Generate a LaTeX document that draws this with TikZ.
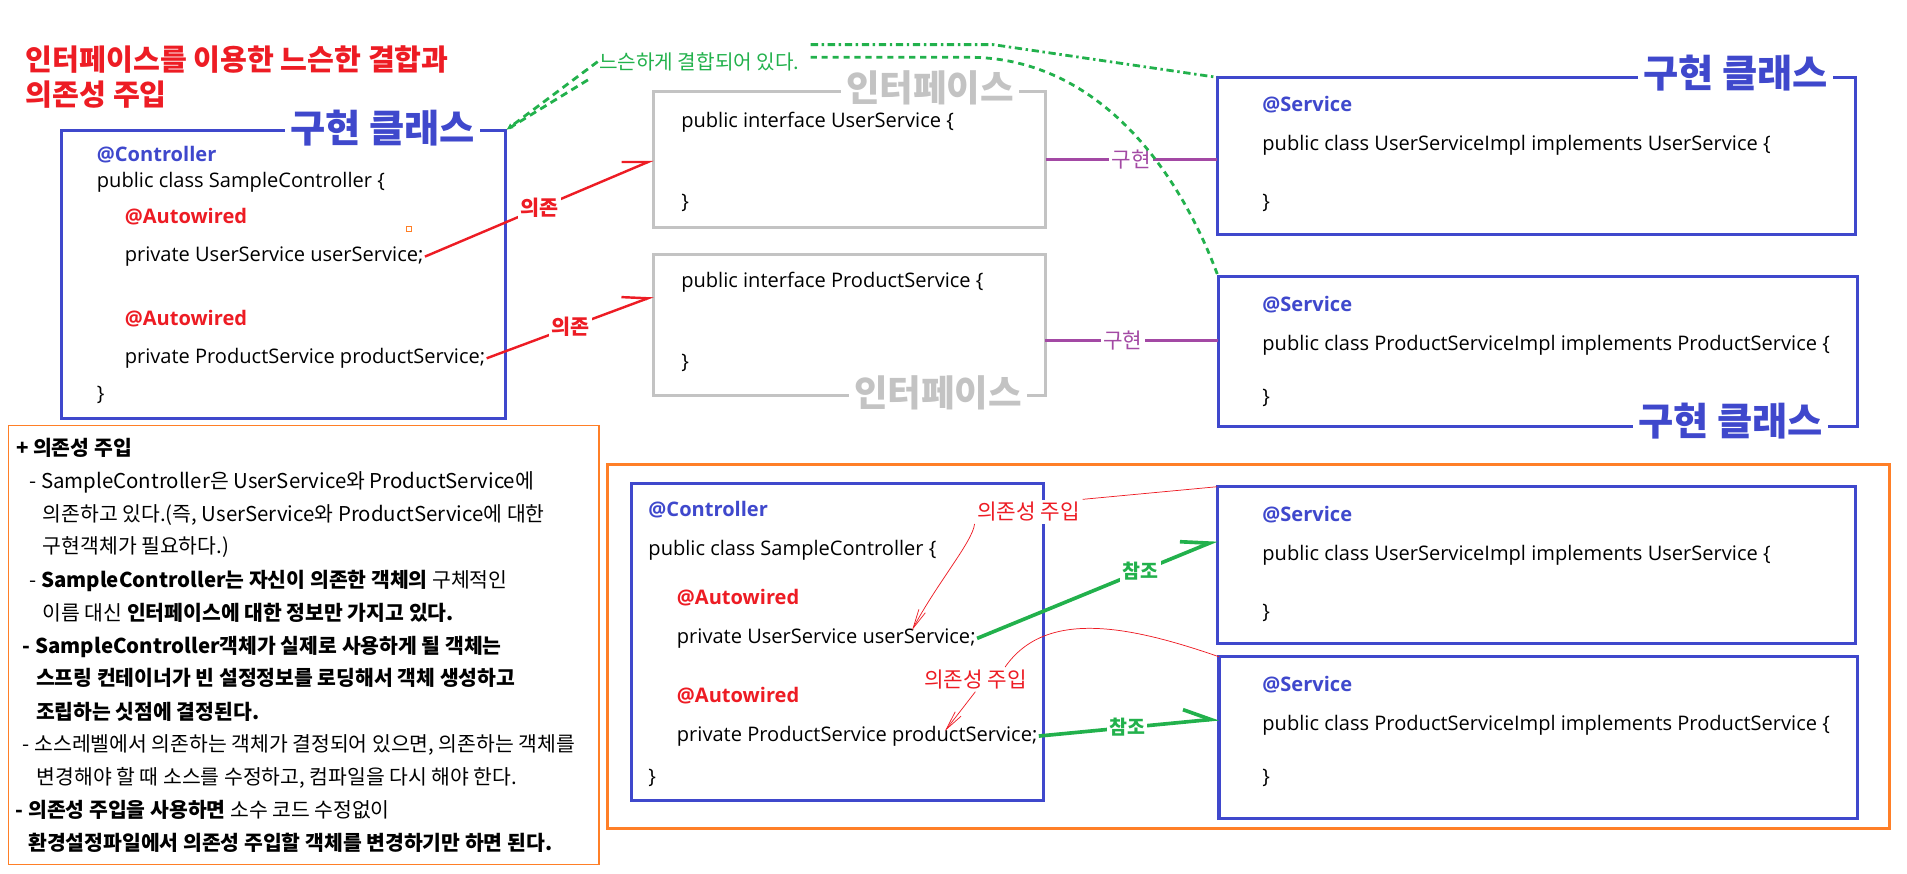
\documentclass[tikz,border=0pt]{standalone}
\usepackage{fontspec}
\setmainfont{Noto Sans CJK KR}
\newfontfamily\codefont{Open Sans}
\usetikzlibrary{arrows.meta}

\definecolor{paintblue}{HTML}{3F48CC}
\definecolor{paintred}{HTML}{ED1C24}
\definecolor{paintgreen}{HTML}{22B14C}
\definecolor{paintpurple}{HTML}{A349A4}
\definecolor{paintorange}{HTML}{FF7F27}
\definecolor{paintgray}{HTML}{C3C3C3}

\begin{document}
\begin{tikzpicture}[
    x=1pt, y=-1pt,
    every node/.style={inner sep=1pt},
    classbox/.style={draw=paintblue, line width=2.5pt, inner sep=0pt, outer sep=0pt, anchor=north west},
    ifacebox/.style={classbox, draw=paintgray},
    notebox/.style={classbox, draw=paintorange},
    boxtitle/.style={fill=white, inner sep=4pt, text=paintblue, font=\bfseries\fontsize{31.5}{34}\selectfont},
    ifacetitle/.style={boxtitle, text=paintgray, font=\bfseries\fontsize{30}{33}\selectfont},
    code/.style={anchor=west, font=\codefont\fontsize{16.5}{19}\selectfont},
    annot/.style={anchor=west, font=\codefont\bfseries\fontsize{16.5}{19}\selectfont},
    notetext/.style={anchor=west, inner sep=0pt, font=\fontsize{16.8}{19}\selectfont},
    tag/.style={fill=white, inner sep=2pt, font=\bfseries\fontsize{17}{20}\selectfont},
    plaintag/.style={fill=white, inner sep=2pt, font=\fontsize{17.5}{20}\selectfont},
    depend/.style={draw=paintred, line width=2pt, -{Straight Barb[harpoon,length=20pt,angle'=46]}},
    implement/.style={draw=paintpurple, line width=2.5pt},
    refer/.style={draw=paintgreen, line width=3pt, -{Straight Barb[harpoon,length=22pt,angle'=50]}},
    inject/.style={draw=paintred, line width=0.6pt},
    loosely/.style={draw=paintgreen, line width=2.3pt, dash pattern=on 6pt off 4pt}
]
\useasboundingbox (0,0) rectangle (1568,718);

% title
\node[anchor=west, text=paintred, font=\bfseries\fontsize{24}{27}\selectfont] (title1) at (20,48.8) {인터페이스를 이용한 느슨한 결합과};
\node[anchor=west, text=paintred, font=\bfseries\fontsize{24}{27}\selectfont] (title2) at (20,78) {의존성 주입};

% controller
\node[classbox, minimum width=365.5pt, minimum height=237pt] (ctrl) at (50.5,107) {};
\node[boxtitle] (ctrltitle) at (314.6,105.5) {구현 클래스};
\node[annot, text=paintblue] (ctrlanno) at (78.5,127.5) {@Controller};
\node[code] (ctrlhead) at (78.5,150.2) {public class SampleController \{};
\node[annot, text=paintred] (ctrlwire1) at (101.4,178) {@Autowired};
\node[code] (ctrlfield1) at (101.4,211) {private UserService userService;};
\node[annot, text=paintred] (ctrlwire2) at (101.4,261.7) {@Autowired};
\node[code] (ctrlfield2) at (101.4,294.6) {private ProductService productService;};
\node[code] (ctrlend) at (78.5,324.8) {\}};
\node[draw=paintorange, line width=0.8pt, minimum size=4pt, inner sep=0pt] (speck) at (336,188) {};

% interfaces
\node[ifacebox, minimum width=322.5pt, minimum height=111.8pt] (ifuser) at (537.3,75.4) {};
\node[ifacetitle] (ifusertitle) at (764.7,72.6) {인터페이스};
\node[code] (ifuserhead) at (559,100.9) {public interface UserService \{};
\node[code] (ifuserend) at (559,167) {\}};
\node[ifacebox, minimum width=322pt, minimum height=116.3pt] (ifprod) at (537.3,209) {};
\node[ifacetitle] (ifprodtitle) at (771.3,323.4) {인터페이스};
\node[code] (ifprodhead) at (559,232.4) {public interface ProductService \{};
\node[code] (ifprodend) at (559,298) {\}};

% implementations
\node[classbox, minimum width=525.3pt, minimum height=129.6pt] (svcuser) at (1000.7,63.6) {};
\node[boxtitle] (svcusertitle) at (1427,60.3) {구현 클래스};
\node[annot, text=paintblue] (svcuseranno) at (1036.8,86.3) {@Service};
\node[code] (svcuserhead) at (1036.8,119.2) {public class UserServiceImpl implements UserService \{};
\node[code] (svcuserend) at (1036.8,167) {\}};
\node[classbox, minimum width=525.5pt, minimum height=123.3pt] (svcprod) at (1001.5,227) {};
\node[boxtitle] (svcprodtitle) at (1423,346) {구현 클래스};
\node[annot, text=paintblue] (svcprodanno) at (1036.8,250.8) {@Service};
\node[code] (svcprodhead) at (1036.8,283.7) {public class ProductServiceImpl implements ProductService \{};
\node[code] (svcprodend) at (1036.8,327.5) {\}};

% links on top
\draw[depend] (ctrlfield1.east) -- (ifuser.west) node[tag, text=paintred, midway] (dep1) {의존};
\draw[depend] (ctrlfield2.east) -- ([yshift=23.6pt]ifprod.west) node[tag, text=paintred, midway] (dep2) {의존};
\draw[implement] (ifuser.east) -- (ifuser.east -| svcuser.west) node[plaintag, text=paintpurple, midway] (impl1) {구현};
\draw[implement] ([yshift=-13.2pt]ifprod.east) -- ([yshift=-13.2pt]ifprod.east -| svcprod.west) node[plaintag, text=paintpurple, pos=0.45] (impl2) {구현};

\node[text=paintgreen, font=\fontsize{16.6}{19}\selectfont] (loosetag) at (575,50.7) {느슨하게 결합되어 있다.};
\draw[loosely, -{Latex[length=6pt,width=5pt]}] (loosetag.west) -- (ctrl.north east);
\draw[loosely] ([xshift=-8pt,yshift=-15pt]loosetag.west) -- (ctrl.north east);
\draw[loosely, dash pattern=on 6pt off 3pt on 2pt off 3pt] ([xshift=8pt,yshift=14pt]loosetag.east) -- ++(150,0) -- (svcuser.north west);
\draw[loosely, dash pattern=on 5pt off 4pt] ([xshift=8pt,yshift=3.6pt]loosetag.east) -- ++(130,0) .. controls ++(100,0) and +(-36,-97) .. (svcprod.north west);

% note
\node[notebox, line width=1.2pt, minimum width=485.7pt, minimum height=361pt] (note) at (7,350) {};
\node[notetext] (note1) at (13,368.6) {\textbf{+ 의존성 주입}};
\node[notetext] (note2) at (24,397) {- SampleController은 UserService와 ProductService에};
\node[notetext] (note3) at (35,423.6) {의존하고 있다.(즉, UserService와 ProductService에 대한};
\node[notetext] (note4) at (35,449.5) {구현객체가 필요하다.)};
\node[notetext] (note5) at (24,478) {- \textbf{SampleController는 자신이 의존한 객체의} 구체적인};
\node[notetext] (note6) at (35,504) {이름 대신 \textbf{인터페이스에 대한 정보만 가지고 있다.}};
\node[notetext] (note7) at (18.5,531.7) {\textbf{- SampleController객체가 실제로 사용하게 될 객체는}};
\node[notetext] (note8) at (29.4,557.6) {\textbf{스프링 컨테이너가 빈 설정정보를 로딩해서 객체 생성하고}};
\node[notetext] (note9) at (29.4,585) {\textbf{조립하는 싯점에 결정된다.}};
\node[notetext] (note10) at (18.5,612.6) {- 소스레벨에서 의존하는 객체가 결정되어 있으면, 의존하는 객체를};
\node[notetext] (note11) at (30,640) {변경해야 할 때 소스를 수정하고, 컴파일을 다시 해야 한다.};
\node[notetext] (note12) at (12.8,666) {\textbf{- 의존성 주입을 사용하면} 소수 코드 수정없이};
\node[notetext] (note13) at (23,693) {\textbf{환경설정파일에서 의존성 주입할 객체를 변경하기만 하면 된다.}};

% injection at run time
\node[notebox, minimum width=1054.5pt, minimum height=299.3pt] (diarea) at (499.4,382.3) {};
\node[classbox, minimum width=338.7pt, minimum height=260.9pt] (ctrlb) at (519.5,397.4) {};
\node[annot, text=paintblue] (ctrlbanno) at (532,419.3) {@Controller};
\node[code] (ctrlbhead) at (532,452.2) {public class SampleController \{};
\node[annot, text=paintred] (ctrlbwire1) at (555.4,491.4) {@Autowired};
\node[code] (ctrlbfield1) at (555.4,524.9) {private UserService userService;};
\node[annot, text=paintred] (ctrlbwire2) at (555.4,572.3) {@Autowired};
\node[code] (ctrlbfield2) at (555.4,605.2) {private ProductService productService;};
\node[code] (ctrlbend) at (532,640) {\}};

\node[classbox, minimum width=525.3pt, minimum height=128.8pt] (svcuserb) at (1000.7,400.2) {};
\node[annot, text=paintblue] (svcuserbanno) at (1036.8,422.9) {@Service};
\node[code] (svcuserbhead) at (1036.8,456.3) {public class UserServiceImpl implements UserService \{};
\node[code] (svcuserbend) at (1036.8,503.8) {\}};
\node[classbox, minimum width=525.3pt, minimum height=132.9pt] (svcprodb) at (1002.3,540) {};
\node[annot, text=paintblue] (svcprodbanno) at (1036.8,563.2) {@Service};
\node[code] (svcprodbhead) at (1036.8,596.1) {public class ProductServiceImpl implements ProductService \{};
\node[code] (svcprodbend) at (1036.8,640) {\}};

\draw[refer] (ctrlbfield1.east) -- ([yshift=20.6pt]svcuserb.west) node[tag, text=paintgreen, font=\bfseries\fontsize{16}{19}\selectfont, pos=0.68] (ref1) {참조};
\draw[refer] (ctrlbfield2.east) -- ([yshift=15.5pt]svcprodb.west) node[tag, text=paintgreen, font=\bfseries\fontsize{16}{19}\selectfont, pos=0.49] (ref2) {참조};

\node[plaintag, text=paintred] (inj1) at (845.7,420.7) {의존성 주입};
\node[plaintag, text=paintred] (inj2) at (802,558.6) {의존성 주입};
\coordinate (inj1tip) at (750,518);
\coordinate (inj2tip) at (777,601);
\draw[inject] (svcuserb.north west) -- (inj1.north east);
\draw[inject, -{Straight Barb[length=16pt,width=6pt]}] (inj1.south west) .. controls (800,445) and (770,480) .. (inj1tip);
\draw[inject] (svcprodb.north west) .. controls (930,515) and (860,500) .. ([xshift=-20pt]inj2.north east);
\draw[inject, -{Straight Barb[length=16pt,width=6pt]}] (inj2.south) -- (inj2tip);
\end{tikzpicture}
\end{document}
